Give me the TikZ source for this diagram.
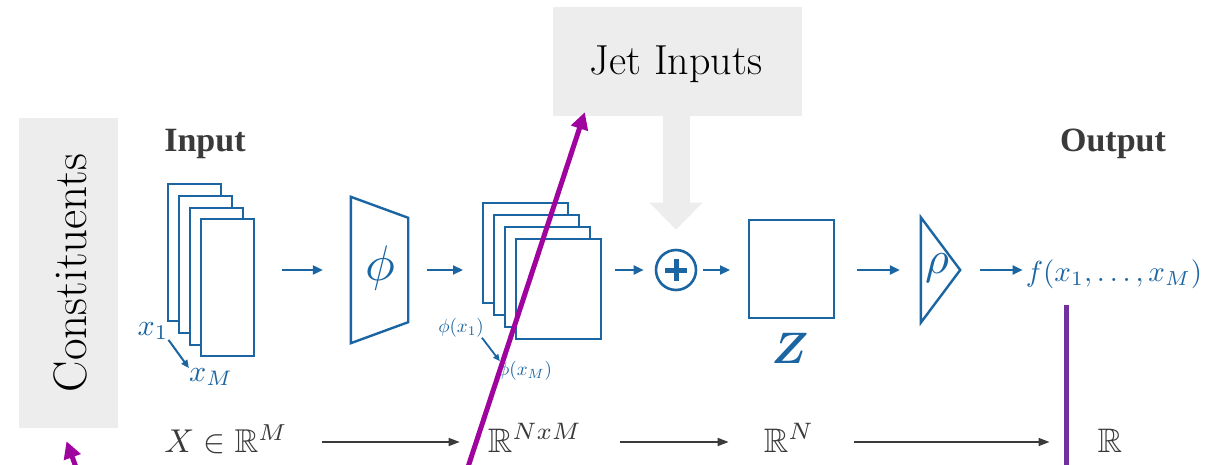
\documentclass[tikz,border=0pt]{standalone}
\usepackage{amsmath,amssymb}
\usepackage{graphicx}
\usepackage{fontspec}
\newfontfamily\timesfont{Liberation Serif}
\usetikzlibrary{arrows.meta}
\definecolor{nnblue}{HTML}{1B65A2}
\definecolor{boxgray}{HTML}{EDEDED}
\definecolor{txtgray}{HTML}{3A3A3A}
\definecolor{annmag}{HTML}{A0049E}
\definecolor{annpur}{HTML}{7030A0}
\newcommand{\mth}[2]{\scalebox{#1}{\fontsize{10}{12}\selectfont$#2$}}
\begin{document}
\begin{tikzpicture}[x=1pt,y=-1pt,
  blueline/.style={draw=nnblue, line width=2.4pt, line join=miter},
  layerbox/.style={blueline, fill=white, rectangle, inner sep=0pt, anchor=north west},
  ghost/.style={rectangle, inner sep=0pt},
  flow/.style={draw=nnblue, line width=2.2pt, -{Triangle[length=10pt,width=9pt]}},
  dimflow/.style={draw=txtgray, line width=1.6pt, -{Triangle[length=11pt,width=8pt]}},
  graybox/.style={fill=boxgray, inner sep=0pt, rectangle},
  grayarrow/.style={draw=boxgray, line width=27pt, -{Triangle[length=27pt,width=51pt]}},
  annot/.style={draw=annmag, line width=5pt, -{Triangle[length=17pt,width=17pt]}},
  bluetxt/.style={text=nnblue, inner sep=0pt},
  dimtxt/.style={text=txtgray, inner sep=0pt, anchor=base},
  headtxt/.style={text=txtgray, inner sep=0pt, anchor=base, font=\timesfont\bfseries\fontsize{34}{36}\selectfont}
]
\useasboundingbox[fill=white] (0,0) rectangle (1210,465);

% gray boxes
\node[graybox, minimum width=99pt, minimum height=310pt] (cons) at (68.5,273) {};
\node[rotate=90, inner sep=0pt, font=\fontsize{47}{50}\selectfont] (constxt) at (70,273) {Constituents};
\node[graybox, minimum width=249pt, minimum height=109pt] (jet) at (677.5,61.5) {};
\node[inner sep=0pt, font=\fontsize{42}{45}\selectfont] (jettxt) at (676,64) {Jet Inputs};

% headings
\node[headtxt] (inlab) at (205,152) {Input};
\node[headtxt] (outlab) at (1113,152) {Output};

% input stack
\node[layerbox, minimum width=53pt, minimum height=137pt] (in1) at (167,183) {};
\node[layerbox, minimum width=53pt, minimum height=137pt] (in2) at (178,195) {};
\node[layerbox, minimum width=53pt, minimum height=137pt] (in3) at (189,207) {};
\node[layerbox, minimum width=53pt, minimum height=137pt] (in4) at (200,218) {};
\node[bluetxt] (x1) at (153,331) {\mth{3}{x_1}};
\node[bluetxt] (xM) at (211,377) {\mth{3}{x_M}};
\draw[draw=nnblue, line width=2pt, -{Triangle[length=8pt,width=7pt]}] (x1.south east) -- (xM.north west);

% phi trapezoid
\node[ghost, minimum width=57pt, minimum height=146pt] (phibox) at (379.5,270) {};
\draw[blueline] (phibox.north west) -- ([yshift=-21pt]phibox.north east) -- ([yshift=21pt]phibox.south east) -- (phibox.south west) -- cycle;
\node[bluetxt] (phitxt) at (380,268) {\mth{5}{\phi}};

% phi stack
\node[layerbox, minimum width=85pt, minimum height=100pt] (ph1) at (482,202) {};
\node[layerbox, minimum width=85pt, minimum height=100pt] (ph2) at (493,214) {};
\node[layerbox, minimum width=85pt, minimum height=100pt] (ph3) at (504,226) {};
\node[layerbox, minimum width=85pt, minimum height=100pt] (ph4) at (515,238) {};
\node[bluetxt] (phx1) at (461,328) {\mth{1.9}{\phi(x_1)}};
\node[bluetxt] (phxM) at (525,371) {\mth{1.9}{\phi(x_M)}};
\draw[draw=nnblue, line width=1.8pt, -{Triangle[length=7pt,width=6pt]}] ([xshift=-2pt]phx1.south east) -- ([xshift=2pt]phxM.north west);

% sum
\node[circle, draw=nnblue, line width=2.6pt, minimum size=40pt, inner sep=0pt] (plus) at (676,270) {};
\draw[draw=nnblue, line width=5pt] ([xshift=-11pt]plus.center) -- ([xshift=11pt]plus.center);
\draw[draw=nnblue, line width=5pt] ([yshift=-11pt]plus.center) -- ([yshift=11pt]plus.center);

% Z
\node[layerbox, minimum width=85pt, minimum height=98pt] (zbox) at (748,219) {};
\node[bluetxt] (zlab) at (790,348) {\mth{4.4}{\boldsymbol{Z}}};

% rho
\node[ghost, minimum width=39pt, minimum height=105pt] (rhobox) at (940.5,270) {};
\draw[blueline] (rhobox.north west) -- (rhobox.east) -- (rhobox.south west) -- cycle;
\node[bluetxt] (rhotxt) at (937,268) {\mth{4.6}{\rho}};

% output
\node[bluetxt, anchor=base] (fout) at (1114,281) {\mth{2.9}{f(x_1,\ldots,x_M)}};

% jet input arrow
\draw[grayarrow, shorten >=19pt] (jet.south -| plus.center) -- (plus.north);

% blue flow arrows
\draw[flow, shorten <=27pt, shorten >=28pt] (in4.east |- phibox.west) -- (phibox.west);
\draw[flow, shorten <=19pt, shorten >=19pt] (phibox.east) -- (ph1.west |- phibox.east);
\draw[flow, shorten <=13pt, shorten >=11pt] (ph4.east |- plus.west) -- (plus.west);
\draw[flow, shorten <=6pt, shorten >=18pt] (plus.east) -- (zbox.west |- plus.east);
\draw[flow, shorten <=22pt, shorten >=21pt] (zbox.east |- rhobox.east) -- (rhobox.west |- rhobox.east);
\draw[flow, shorten <=20pt, shorten >=3pt] (rhobox.east) -- (fout.west |- rhobox.east);

% dimension row
\node[dimtxt] (dX) at (226,452) {\mth{3.3}{X \in \mathbb{R}^M}};
\node[dimtxt] (dNM) at (535,452) {\mth{3.4}{\mathbb{R}^{NxM}}};
\node[dimtxt] (dN) at (789,452) {\mth{3.4}{\mathbb{R}^{N}}};
\node[dimtxt] (dR) at (1110,452) {\mth{3.4}{\mathbb{R}}};
\draw[dimflow, shorten <=34pt, shorten >=28pt] ([yshift=10pt]dX.base east) -- ([yshift=10pt]dNM.base west);
\draw[dimflow, shorten <=38pt, shorten >=35pt] ([yshift=10pt]dNM.base east) -- ([yshift=10pt]dN.base west);
\draw[dimflow, shorten <=40pt, shorten >=48pt] ([yshift=10pt]dN.base east) -- ([yshift=10pt]dR.base west);

% annotations
\coordinate (magtail) at (467,470);
\draw[annot] (magtail) -- ([xshift=32pt,yshift=4pt]jet.south west);
\coordinate (constail) at (77,470);
\draw[annot] (constail) -- ([xshift=-2pt,yshift=-13pt]cons.south);
\coordinate (purtop) at (1066,305);
\coordinate (purbot) at (1066,470);
\draw[draw=annpur, line width=5pt] (purtop) -- (purbot);
\end{tikzpicture}
\end{document}
